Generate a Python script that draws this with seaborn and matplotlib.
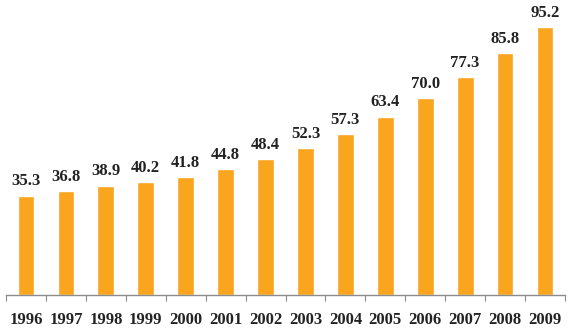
import matplotlib
matplotlib.use("Agg")
import matplotlib.pyplot as plt
import seaborn as sns
import pandas as pd
from matplotlib.ticker import FixedLocator

years = ["1996", "1997", "1998", "1999", "2000", "2001", "2002",
         "2003", "2004", "2005", "2006", "2007", "2008", "2009"]
values = [35.3, 36.8, 38.9, 40.2, 41.8, 44.8, 48.4,
          52.3, 57.3, 63.4, 70.0, 77.3, 85.8, 95.2]

df = pd.DataFrame({"year": years, "value": values})

sns.set_theme(style="white")
plt.rcParams["font.family"] = ["Liberation Serif", "DejaVu Serif"]

fig = plt.figure(figsize=(5.73, 3.32), dpi=100)
ax = fig.add_axes([6 / 573, 37 / 332, 559 / 573, 295 / 332])

sns.barplot(data=df, x="year", y="value", color="#F9A51E", width=0.42,
            saturation=1, ax=ax)

ax.set_xlim(-0.5, len(years) - 0.5)
ax.set_ylim(0, 104.8)

for i, v in enumerate(values):
    ax.text(i, v + 2.2, f"{v:.1f}", ha="center", va="bottom",
            fontsize=12, fontweight="bold", color="#222222")

for s in ["top", "right", "left"]:
    ax.spines[s].set_visible(False)
ax.spines["bottom"].set_color("#8c8c8c")
ax.spines["bottom"].set_linewidth(1.0)

ax.set_yticks([])
ax.set_xlabel("")
ax.set_ylabel("")

# category labels at bar centres, tick marks at category boundaries
ax.xaxis.set_major_locator(FixedLocator([i - 0.5 for i in range(len(years) + 1)]))
ax.xaxis.set_minor_locator(FixedLocator(list(range(len(years)))))
ax.set_xticklabels([])
ax.set_xticklabels(years, minor=True)
ax.tick_params(axis="x", which="major", bottom=True, length=4, width=0.8,
               color="#8c8c8c", direction="out")
ax.tick_params(axis="x", which="minor", bottom=True, length=0, pad=12,
               labelsize=12, colors="#222222")
for lbl in ax.get_xticklabels(minor=True):
    lbl.set_fontweight("bold")

fig.savefig("out.png", dpi=100, facecolor="white")
